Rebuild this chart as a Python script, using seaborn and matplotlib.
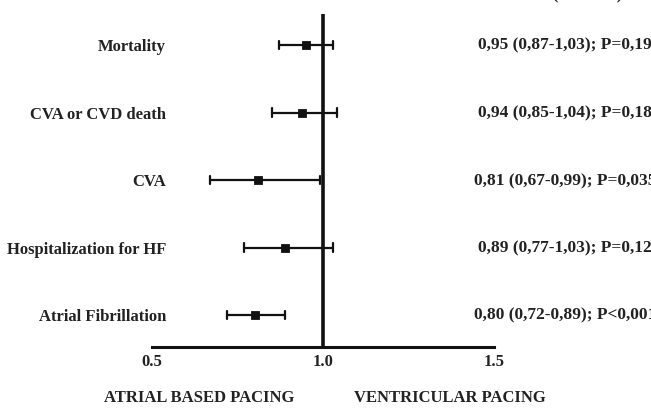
import matplotlib
matplotlib.use("Agg")
import matplotlib.pyplot as plt
import seaborn as sns
import pandas as pd

categories = ["Mortality", "CVA or CVD death", "CVA", "Hospitalization for HF", "Atrial Fibrillation"]
or_est = [0.95, 0.94, 0.81, 0.89, 0.80]
ci_low = [0.87, 0.85, 0.67, 0.77, 0.72]
ci_high = [1.03, 1.04, 0.99, 1.03, 0.89]
or_labels = ["0,95 (0,87-1,03); P=0,19", "0,94 (0,85-1,04); P=0,18",
             "0,81 (0,67-0,99); P=0,035", "0,89 (0,77-1,03); P=0,12",
             "0,80 (0,72-0,89); P<0,001"]
xticks = [0.5, 1.0, 1.5]
xtick_labels = ["0.5", "1.0", "1.5"]

sns.set_theme(style="white")
plt.rcParams['font.family'] = ['Liberation Serif', 'DejaVu Serif']

rows = []
for c, lo, e, hi in zip(categories, ci_low, or_est, ci_high):
    for v in (lo, e, hi):
        rows.append({"cat": c, "val": v})
df = pd.DataFrame(rows)

W, H = 651, 412
fig = plt.figure(figsize=(W / 100, H / 100), dpi=100)
x0, x1 = 152, 494
ytop, ybot = 14, 347
ax = fig.add_axes([x0 / W, (H - ybot) / H, (x1 - x0) / W, (ybot - ytop) / H])

tc = "#222222"
sns.pointplot(data=df, x="val", y="cat", order=categories, estimator="median",
              errorbar=("pi", 100), linestyle="none", marker="s", markersize=5,
              color="#111111", capsize=0.13, err_kws={"linewidth": 1.6}, ax=ax)

ax.axvline(1.0, color="#111111", linewidth=2.6)
ax.set_xlim(0.5, 1.5)
row_y = [45, 113, 181, 248, 315]
spacing = 67.5
ax.set_ylim((ybot - row_y[0]) / spacing, -(row_y[0] - ytop) / spacing)

for s in ["top", "right", "left"]:
    ax.spines[s].set_visible(False)
ax.spines["bottom"].set_linewidth(2.2)
ax.spines["bottom"].set_color("#111111")
ax.set_xticks(xticks)
ax.set_xticklabels(xtick_labels, fontsize=12, color=tc, fontweight="bold")
ax.tick_params(axis="x", length=0, pad=5)
ax.set_yticks(range(len(categories)))
ax.set_yticklabels(categories, fontsize=12, color=tc, fontweight="bold")
ax.tick_params(axis="y", length=0, pad=-10)
ax.set_xlabel("")
ax.set_ylabel("")

for yy, t in zip(row_y, or_labels):
    fig.text(565 / W, (H - yy) / H, t, ha="center", va="center",
             fontsize=12.5, color=tc, fontweight="bold")
fig.text(572 / W, (H + 5) / H, "OR (CI 95%)", ha="center", va="center",
         fontsize=12.5, color=tc, fontweight="bold")
fig.text(199 / W, (H - 398) / H, "ATRIAL BASED PACING", ha="center", va="center",
         fontsize=12, color=tc, fontweight="bold")
fig.text(450 / W, (H - 398) / H, "VENTRICULAR PACING", ha="center", va="center",
         fontsize=12, color=tc, fontweight="bold")

fig.savefig("out.png", dpi=100)
